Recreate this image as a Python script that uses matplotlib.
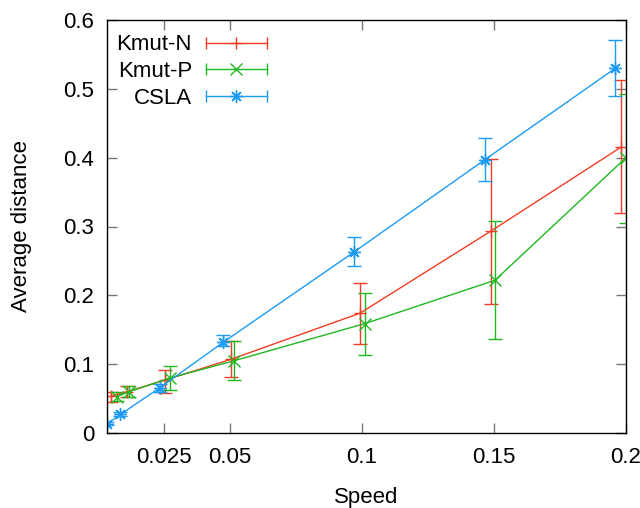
import matplotlib
matplotlib.use("Agg")
import numpy as np
import matplotlib.pyplot as plt
from matplotlib.lines import Line2D
from matplotlib.legend_handler import HandlerBase
from matplotlib.container import ErrorbarContainer

plt.rcParams['font.family'] = ['Liberation Sans', 'DejaVu Sans']
plt.rcParams['font.size'] = 16

# Kmut-N
kn_speed = [0.005, 0.011, 0.0255, 0.0503, 0.0992, 0.1487, 0.198]
kn_dist = [0.0535, 0.060, 0.077, 0.107, 0.174, 0.293, 0.415]
kn_low = [0.045, 0.052, 0.058, 0.082, 0.129, 0.188, 0.319]
kn_high = [0.059, 0.068, 0.091, 0.133, 0.218, 0.398, 0.513]

# Kmut-P
kp_speed = [0.0073, 0.0118, 0.0273, 0.0516, 0.1011, 0.1504, 0.2]
kp_dist = [0.053, 0.060, 0.080, 0.105, 0.159, 0.222, 0.400]
kp_low = [0.046, 0.053, 0.062, 0.077, 0.114, 0.137, 0.3055]
kp_high = [0.059, 0.069, 0.098, 0.133, 0.204, 0.308, 0.493]

# CSLA
cs_speed = [0.0035, 0.0085, 0.0235, 0.0475, 0.097, 0.1465, 0.196]
cs_dist = [0.0134, 0.027, 0.066, 0.132, 0.263, 0.397, 0.530]
cs_low = [0.011, 0.024, 0.059, 0.126, 0.2425, 0.3655, 0.4895]
cs_high = [0.016, 0.031, 0.0715, 0.143, 0.285, 0.429, 0.5705]

x_ticks = [0.025, 0.05, 0.1, 0.15, 0.2]
x_labels = ["0.025", "0.05", "0.1", "0.15", "0.2"]
y_ticks = [0, 0.1, 0.2, 0.3, 0.4, 0.5, 0.6]
y_labels = ["0", "0.1", "0.2", "0.3", "0.4", "0.5", "0.6"]

series = [
    ("Kmut-N", kn_speed, kn_dist, kn_low, kn_high, "#f43c24", "+"),
    ("Kmut-P", kp_speed, kp_dist, kp_low, kp_high, "#1fb81f", "x"),
    ("CSLA", cs_speed, cs_dist, cs_low, cs_high, "#1b9bf5", (8, 2, 0)),
]


class HandlerHBar(HandlerBase):
    # gnuplot style key: horizontal bar with caps and a marker in the middle
    def create_artists(self, legend, orig_handle, xdescent, ydescent,
                       width, height, fontsize, trans):
        line = orig_handle.lines[0]
        c = line.get_color()
        y = height / 2 - ydescent
        x0, x1 = -xdescent, width - xdescent
        bar = Line2D([x0, x1], [y, y], color=c, lw=1)
        caps = Line2D([x0, x1], [y, y], color=c, ls='none', marker='|',
                      markersize=9, markeredgewidth=1)
        mk = Line2D([(x0 + x1) / 2], [y], color=c, ls='none',
                    marker=line.get_marker(), markersize=9, markeredgewidth=1)
        for a in (bar, caps, mk):
            a.set_transform(trans)
        return [bar, caps, mk]


fig = plt.figure(figsize=(6.4, 5.08), dpi=100)
ax = fig.add_axes([107 / 640, 1 - 433 / 508, (626 - 107) / 640, (433 - 20) / 508])

for name, xs, ys, lo, hi, col, mk in series:
    ys = np.array(ys)
    yerr = [ys - np.array(lo), np.array(hi) - ys]
    ax.errorbar(xs, ys, yerr=yerr, color=col, lw=1, elinewidth=1,
                capsize=5, capthick=1, marker=mk, markersize=9,
                markeredgewidth=1, label=name)

ax.set_xlim(0.0034, 0.2)
ax.set_ylim(0, 0.6)
ax.set_xticks(x_ticks)
ax.set_xticklabels(x_labels)
ax.set_yticks(y_ticks)
ax.set_yticklabels(y_labels)
ax.tick_params(direction='in', length=7, width=1, color='#777777',
               top=True, right=True, labelsize=16)
ax.tick_params(axis='x', pad=10)
ax.tick_params(axis='y', pad=9)
for s in ax.spines.values():
    s.set_linewidth(1)

ax.set_xlabel("Speed", fontsize=16, labelpad=14)
ax.set_ylabel("Average distance", fontsize=16, labelpad=23)

ax.legend(handler_map={ErrorbarContainer: HandlerHBar()}, loc='upper right',
          bbox_to_anchor=((267 - 107) / 519, 0.965), frameon=False,
          markerfirst=False, handlelength=2.75, handletextpad=0.63,
          labelspacing=0.26, borderpad=0, borderaxespad=0, fontsize=16)

fig.savefig("out.png", dpi=100)
